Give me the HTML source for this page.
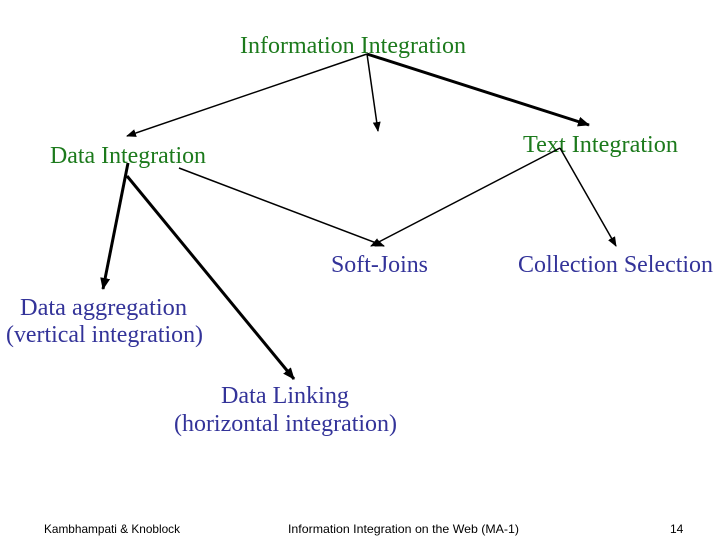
<!DOCTYPE html>
<html><head><meta charset="utf-8"><style>
html,body{margin:0;padding:0;background:#fff;}
svg{display:block;}
.g{font-family:"Liberation Serif",serif;font-size:24px;fill:#1c7a1c;}
.b{font-family:"Liberation Serif",serif;font-size:24px;fill:#333399;}
.f{font-family:"Liberation Sans",sans-serif;font-size:12px;fill:#000;}
</style></head><body>
<svg width="720" height="540" viewBox="0 0 720 540">
<defs>
<marker id="a" markerWidth="10" markerHeight="8" refX="9" refY="4" orient="auto" markerUnits="userSpaceOnUse"><path d="M0,0 L10,4 L0,8 z" fill="#000"/></marker>
<marker id="a2" markerWidth="12" markerHeight="10" refX="11" refY="5" orient="auto" markerUnits="userSpaceOnUse"><path d="M0,0 L12,5 L0,10 z" fill="#000"/></marker>
</defs>
<text class="g" x="240" y="53" textLength="226" lengthAdjust="spacingAndGlyphs">Information Integration</text>
<text class="g" x="50" y="163" textLength="156" lengthAdjust="spacingAndGlyphs">Data Integration</text>
<text class="g" x="523" y="152" textLength="155" lengthAdjust="spacingAndGlyphs">Text Integration</text>
<text class="b" x="331" y="272" textLength="97" lengthAdjust="spacingAndGlyphs">Soft-Joins</text>
<text class="b" x="518" y="272" textLength="195" lengthAdjust="spacingAndGlyphs">Collection Selection</text>
<text class="b" x="20" y="315" textLength="167" lengthAdjust="spacingAndGlyphs">Data aggregation</text>
<text class="b" x="6" y="342" textLength="197" lengthAdjust="spacingAndGlyphs">(vertical integration)</text>
<text class="b" x="221" y="403" textLength="128" lengthAdjust="spacingAndGlyphs">Data Linking</text>
<text class="b" x="174" y="431" textLength="223" lengthAdjust="spacingAndGlyphs">(horizontal integration)</text>
<g stroke="#000" fill="none">
<line x1="367" y1="54" x2="127" y2="136" stroke-width="1.5" marker-end="url(#a)"/>
<line x1="367" y1="54" x2="378" y2="131" stroke-width="1.5" marker-end="url(#a)"/>
<line x1="367" y1="54" x2="589" y2="125" stroke-width="3" marker-end="url(#a2)"/>
<line x1="179" y1="168" x2="384" y2="246" stroke-width="1.5" marker-end="url(#a)"/>
<line x1="560" y1="148" x2="371" y2="246" stroke-width="1.5" marker-end="url(#a)"/>
<line x1="560" y1="148" x2="616" y2="246" stroke-width="1.5" marker-end="url(#a)"/>
<line x1="128" y1="163" x2="103" y2="289" stroke-width="3" marker-end="url(#a2)"/>
<line x1="127" y1="176" x2="294" y2="379" stroke-width="3" marker-end="url(#a2)"/>
</g>
<text class="f" x="44" y="533" textLength="136" lengthAdjust="spacingAndGlyphs">Kambhampati &amp; Knoblock</text>
<text class="f" x="288" y="533" textLength="231" lengthAdjust="spacingAndGlyphs">Information Integration on the Web (MA-1)</text>
<text class="f" x="670" y="533">14</text>
</svg>
</body></html>
